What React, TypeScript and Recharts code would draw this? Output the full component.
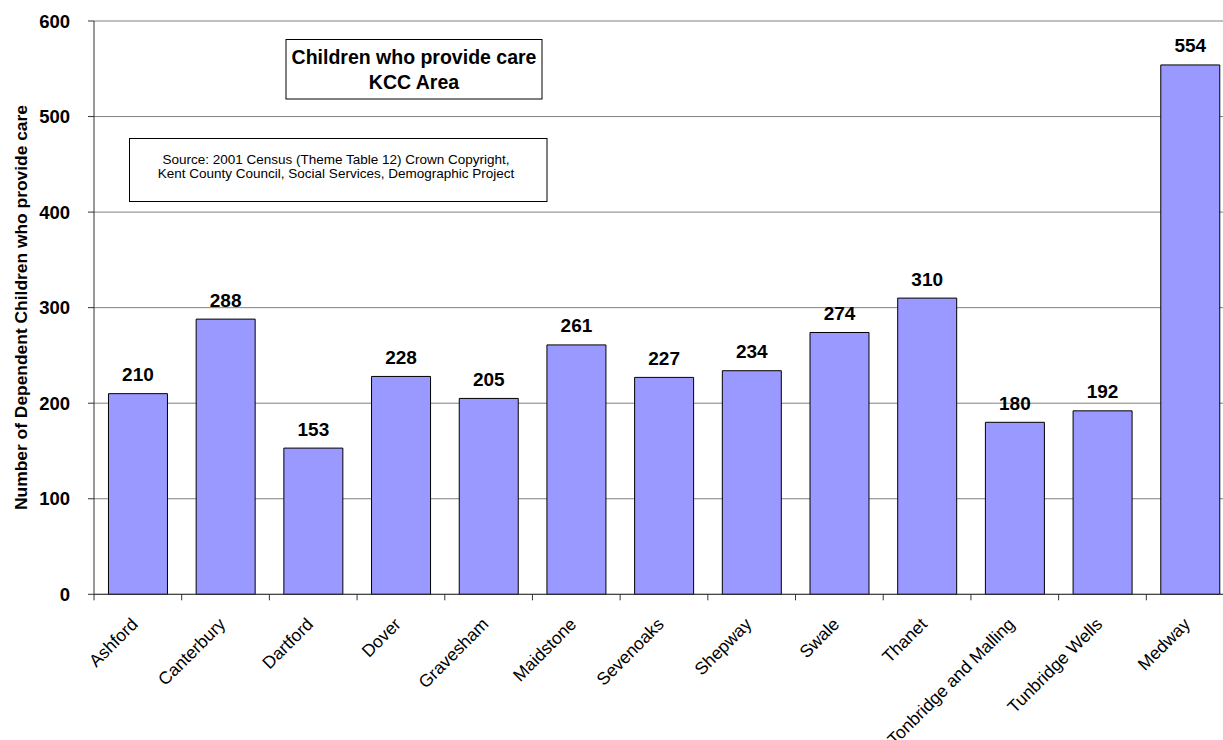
import React from 'react';
import { BarChart, Bar, XAxis, YAxis, CartesianGrid, LabelList } from 'recharts';

const districts = [
  'Ashford', 'Canterbury', 'Dartford', 'Dover', 'Gravesham', 'Maidstone', 'Sevenoaks',
  'Shepway', 'Swale', 'Thanet', 'Tonbridge and Malling', 'Tunbridge Wells', 'Medway',
];
const carers = [210, 288, 153, 228, 205, 261, 227, 234, 274, 310, 180, 192, 554];
const yTicks = [0, 100, 200, 300, 400, 500, 600];

const titleLines = ['Children who provide care', 'KCC Area'];
const sourceLines = [
  'Source: 2001 Census (Theme Table 12) Crown Copyright,',
  'Kent County Council, Social Services, Demographic Project',
];
const yLabel = 'Number of Dependent Children who provide care';

const data = districts.map((name, i) => ({ name, value: carers[i] }));

const FONT = "'Liberation Sans', Arial, Helvetica, sans-serif";
const WIDTH = 1240;
const HEIGHT = 740;
const MARGIN = { top: 21, right: 6, bottom: 5, left: 0 };
const YAXIS_W = 94;
const XAXIS_H = 140.7;
const AXIS_Y = HEIGHT - MARGIN.bottom - XAXIS_H;
const PLOT_W = WIDTH - MARGIN.left - MARGIN.right - YAXIS_W;
const BAND = PLOT_W / districts.length;

const XTick = (props: any) => {
  const { x, payload } = props;
  const left = x - BAND / 2;
  const ax = x + 1;
  const ay = AXIS_Y + 31;
  return (
    <g>
      <line x1={left} y1={AXIS_Y} x2={left} y2={AXIS_Y + 6} stroke="#333" strokeWidth={1} />
      <text
        x={ax}
        y={ay}
        textAnchor="end"
        transform={`rotate(-45, ${ax}, ${ay})`}
        fontFamily={FONT}
        fontSize={17.5}
        fill="#000"
      >
        {payload.value}
      </text>
    </g>
  );
};

export default function App() {
  return (
    <div style={{ position: 'absolute', left: 0, top: 0, width: 1223, height: 740, overflow: 'hidden', background: '#fff' }}>
      <div style={{ position: 'relative', width: WIDTH, height: HEIGHT }}>
        <BarChart width={WIDTH} height={HEIGHT} data={data} margin={MARGIN} barCategoryGap="16.5%">
          <CartesianGrid vertical={false} stroke="#808080" strokeWidth={1} />
          <XAxis
            dataKey="name"
            height={XAXIS_H}
            interval={0}
            tickLine={false}
            axisLine={{ stroke: '#333', strokeWidth: 1 }}
            tick={<XTick />}
          />
          <YAxis
            width={YAXIS_W}
            domain={[0, 600]}
            ticks={yTicks}
            interval={0}
            tickSize={6}
            tickMargin={18}
            axisLine={{ stroke: '#333', strokeWidth: 1 }}
            tickLine={{ stroke: '#333', strokeWidth: 1 }}
            tick={{ fill: '#000', fontFamily: FONT, fontSize: 18.5, fontWeight: 'bold' }}
          />
          <Bar dataKey="value" fill="#9999FF" stroke="#000" strokeWidth={1} isAnimationActive={false}>
            <LabelList
              dataKey="value"
              position="top"
              offset={12.5}
              style={{ fill: '#000', fontFamily: FONT, fontSize: 19, fontWeight: 'bold' }}
            />
          </Bar>
        </BarChart>
        <svg
          width={WIDTH}
          height={HEIGHT}
          style={{ position: 'absolute', left: 0, top: 0, pointerEvents: 'none' }}
        >
          <text
            x={27}
            y={307.5}
            textAnchor="middle"
            transform="rotate(-90, 27, 307.5)"
            fontFamily={FONT}
            fontSize={17.4}
            fontWeight="bold"
            fill="#000"
          >
            {yLabel}
          </text>
          <rect x={286} y={39.5} width={256} height={59.5} fill="#fff" stroke="#000" strokeWidth={1} />
          {titleLines.map((t, i) => (
            <text
              key={t}
              x={414}
              y={63.5 + i * 25}
              textAnchor="middle"
              fontFamily={FONT}
              fontSize={19.5}
              fontWeight="bold"
              fill="#000"
            >
              {t}
            </text>
          ))}
          <rect x={129.5} y={138.5} width={417.5} height={63} fill="#fff" stroke="#000" strokeWidth={1} />
          {sourceLines.map((t, i) => (
            <text
              key={t}
              x={336}
              y={164 + i * 13.5}
              textAnchor="middle"
              fontFamily={FONT}
              fontSize={13.5}
              fill="#000"
            >
              {t}
            </text>
          ))}
        </svg>
      </div>
    </div>
  );
}
